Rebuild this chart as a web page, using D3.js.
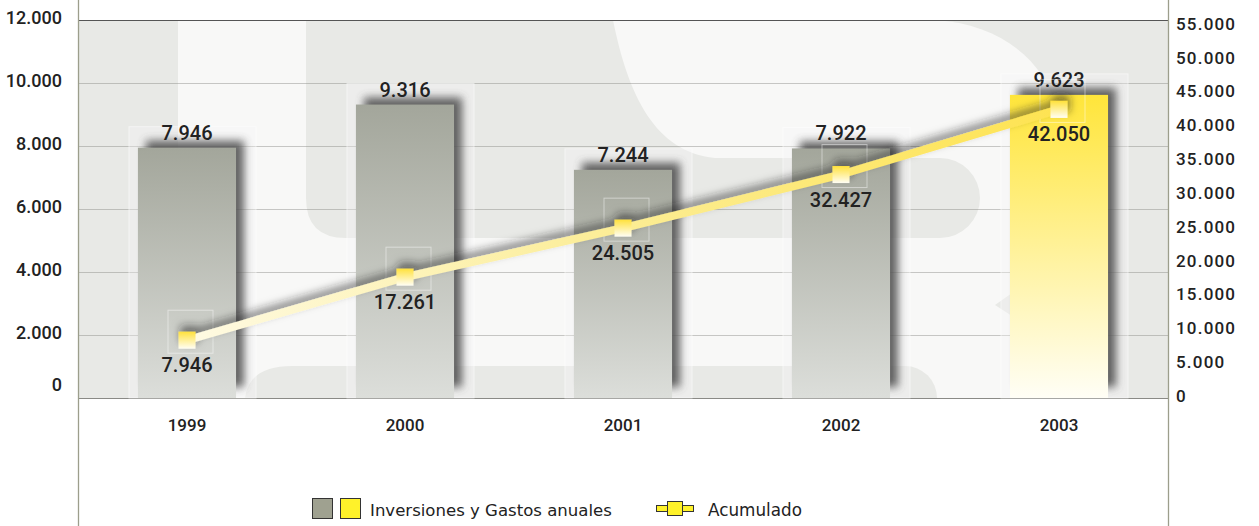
<!DOCTYPE html>
<html>
<head>
<meta charset="utf-8">
<script src="https://cdn.jsdelivr.net/npm/d3@7/dist/d3.min.js"></script>
<style>
  body { margin: 0; background: #fff; }
  svg { display: block; }
</style>
</head>
<body>
<svg width="1259" height="526"></svg>
<script>
// data
const years = ["1999", "2000", "2001", "2002", "2003"];
const annual = [7946, 9316, 7244, 7922, 9623];
const accumulated = [7946, 17261, 24505, 32427, 42050];
const leftTicks = [0, 2000, 4000, 6000, 8000, 10000, 12000];
const rightTicks = [0, 5000, 10000, 15000, 20000, 25000, 30000, 35000, 40000, 45000, 50000, 55000];
const legendBars = "Inversiones y Gastos anuales";
const legendLine = "Acumulado";

const svg = d3.select("svg");
const plotL = 78, plotR = 1168, plotT = 20, plotB = 398;

const locale = d3.formatLocale({ decimal: ",", thousands: ".", grouping: [3], currency: ["", ""] });
const fmt = locale.format(",d");

const x = d3.scaleBand().domain(years).range([plotL, plotR]).paddingInner(0.55).paddingOuter(0.275);
const y = d3.scaleLinear().domain([0, 12000]).range([plotB, plotT]);
const y2 = d3.scaleLinear().domain([0, 56000]).range([396, 17]);

const defs = svg.append("defs");
const gGray = defs.append("linearGradient").attr("id", "gGray").attr("x1", 0).attr("y1", 0).attr("x2", 0).attr("y2", 1);
gGray.append("stop").attr("offset", 0).attr("stop-color", "#a3a69b");
gGray.append("stop").attr("offset", 1).attr("stop-color", "#dcdeda");
const gYel = defs.append("linearGradient").attr("id", "gYel").attr("x1", 0).attr("y1", 0).attr("x2", 0).attr("y2", 1);
gYel.append("stop").attr("offset", 0).attr("stop-color", "#ffe53a");
gYel.append("stop").attr("offset", 1).attr("stop-color", "#fffef6");
const gMark = defs.append("linearGradient").attr("id", "gMark").attr("x1", 0).attr("y1", 0).attr("x2", 0).attr("y2", 1);
gMark.append("stop").attr("offset", 0).attr("stop-color", "#ffe13c");
gMark.append("stop").attr("offset", 1).attr("stop-color", "#fffef4");
const gLine = defs.append("linearGradient").attr("id", "gLine").attr("gradientUnits", "userSpaceOnUse")
  .attr("x1", x("1999")).attr("x2", x("2003") + x.bandwidth()).attr("y1", 0).attr("y2", 0);
gLine.append("stop").attr("offset", 0).attr("stop-color", "#fffcec");
gLine.append("stop").attr("offset", 0.45).attr("stop-color", "#fcee9c");
gLine.append("stop").attr("offset", 1).attr("stop-color", "#fee24a");

defs.append("filter").attr("id", "blur").attr("x", "-30%").attr("y", "-30%").attr("width", "160%").attr("height", "160%")
  .append("feGaussianBlur").attr("stdDeviation", 4);
const fl = defs.append("filter").attr("id", "lineShadow").attr("x", "-10%").attr("y", "-50%").attr("width", "120%").attr("height", "200%");
fl.append("feDropShadow").attr("dx", 2).attr("dy", -6).attr("stdDeviation", 4)
  .attr("flood-color", "#222").attr("flood-opacity", 0.55);

// plot background with watermark
svg.append("rect").attr("x", plotL).attr("y", plotT).attr("width", plotR - plotL).attr("height", plotB - plotT).attr("fill", "#e8e9e6");
const wm = svg.append("g");
wm.append("path").attr("fill", "#f8f8f7")
  .attr("d", "M178,20 H935 C1000,24 1045,60 1058,112 V398 H178 Z");
wm.append("path").attr("fill", "#e8e9e6")
  .attr("d", "M306,20 H613 C628,95 655,152 715,158 H940 A40,40 0 0 1 940,238 H346 Q306,238 306,198 Z");
wm.append("path").attr("fill", "#e8e9e6")
  .attr("d", "M245,398 Q249,366 292,366 H905 A32,32 0 0 1 937,398 Z");
wm.append("path").attr("fill", "#e8e9e6").attr("d", "M1012,293 L995,305 L1012,316 Z");

// gridlines
svg.append("g").selectAll("line").data(leftTicks.filter(d => d > 0 && d < 12000)).join("line")
  .attr("x1", plotL).attr("x2", plotR).attr("y1", d => y(d) + 0.5).attr("y2", d => y(d) + 0.5)
  .attr("stroke", "#8a8a86").attr("stroke-opacity", 0.45);
svg.append("line").attr("x1", plotL).attr("x2", plotR).attr("y1", plotB + 0.5).attr("y2", plotB + 0.5)
  .attr("stroke", "#8a8a86");
svg.append("line").attr("x1", plotL).attr("x2", plotR).attr("y1", plotT + 0.5).attr("y2", plotT + 0.5)
  .attr("stroke", "#555").attr("stroke-width", 1.2);

// bars
const bars = svg.append("g").selectAll("g").data(years).join("g");
bars.append("rect")
  .attr("x", d => x(d) - 9).attr("y", (d, i) => y(annual[i]) - 21)
  .attr("width", x.bandwidth() + 29).attr("height", (d, i) => plotB - y(annual[i]) + 21)
  .attr("fill", "#f6f7f5").attr("fill-opacity", 0.35).attr("stroke", "#fff").attr("stroke-opacity", 0.5);
bars.append("rect")
  .attr("x", d => x(d) + 8).attr("y", (d, i) => y(annual[i]) - 7)
  .attr("width", x.bandwidth()).attr("height", (d, i) => plotB - y(annual[i]) - 4)
  .attr("fill", "#4a4a4a").attr("opacity", 0.85).attr("filter", "url(#blur)");
bars.append("rect")
  .attr("x", d => x(d)).attr("y", (d, i) => y(annual[i]))
  .attr("width", x.bandwidth()).attr("height", (d, i) => plotB - y(annual[i]))
  .attr("fill", (d, i) => i === years.length - 1 ? "url(#gYel)" : "url(#gGray)");
bars.append("text")
  .attr("x", d => x(d) + x.bandwidth() / 2).attr("y", (d, i) => y(annual[i]) - 8)
  .attr("text-anchor", "middle").attr("font-family", "Roboto").attr("font-weight", 500)
  .attr("font-size", 20).attr("fill", "#222")
  .text((d, i) => fmt(annual[i]));

// accumulated line
const pts = years.map((d, i) => [x(d) + x.bandwidth() / 2, y2(accumulated[i]) - 2]);
svg.append("g").selectAll("rect").data(pts).join("rect")
  .attr("x", d => d[0] - 19).attr("y", d => d[1] - 30).attr("width", 45).attr("height", 43)
  .attr("fill", "none").attr("stroke", "#fff").attr("stroke-opacity", 0.45);
const lg = svg.append("g").attr("filter", "url(#lineShadow)");
lg.append("path").attr("d", d3.line()(pts)).attr("fill", "none")
  .attr("stroke", "url(#gLine)").attr("stroke-width", 8).attr("stroke-linejoin", "round");
lg.selectAll("rect").data(pts).join("rect")
  .attr("x", d => d[0] - 8.5).attr("y", d => d[1] - 8.5).attr("width", 17).attr("height", 17)
  .attr("fill", "url(#gMark)");
svg.append("g").selectAll("text").data(pts).join("text")
  .attr("x", d => d[0]).attr("y", d => d[1] + 32)
  .attr("text-anchor", "middle").attr("font-family", "Roboto").attr("font-weight", 500)
  .attr("font-size", 20).attr("fill", "#222")
  .text((d, i) => fmt(accumulated[i]));

// axes lines
svg.append("line").attr("x1", plotL + 0.5).attr("x2", plotL + 0.5).attr("y1", 0).attr("y2", 526).attr("stroke", "#9c9e8c").attr("stroke-width", 1.3);
svg.append("line").attr("x1", plotR + 0.5).attr("x2", plotR + 0.5).attr("y1", 0).attr("y2", 526).attr("stroke", "#9c9e8c").attr("stroke-width", 1.3);

// left axis labels
svg.append("g").selectAll("text").data(leftTicks).join("text")
  .attr("x", 62).attr("y", d => y(d) - (d === 0 ? 14 : 3))
  .attr("dominant-baseline", "central").attr("text-anchor", "end")
  .attr("font-family", "Roboto").attr("font-weight", 500).attr("font-size", 18).attr("fill", "#222")
  .text(d => fmt(d));

// right axis labels
svg.append("g").selectAll("text").data(rightTicks).join("text")
  .attr("x", 1176).attr("y", d => y2(d))
  .attr("dominant-baseline", "central").attr("text-anchor", "start")
  .attr("font-family", "Roboto").attr("font-weight", 500).attr("font-size", 17)
  .attr("letter-spacing", 1.2).attr("fill", "#222")
  .text(d => fmt(d));

// x labels
svg.append("g").selectAll("text").data(years).join("text")
  .attr("x", d => x(d) + x.bandwidth() / 2).attr("y", 431)
  .attr("text-anchor", "middle").attr("font-family", "Roboto").attr("font-weight", 500)
  .attr("font-size", 17).attr("fill", "#222")
  .text(d => d);

// legend
const leg = svg.append("g");
leg.append("rect").attr("x", 312.5).attr("y", 498.5).attr("width", 20).attr("height", 20).attr("fill", "#9fa190").attr("stroke", "#333");
leg.append("rect").attr("x", 340.5).attr("y", 498.5).attr("width", 20).attr("height", 20).attr("fill", "#fff22a").attr("stroke", "#333");
function fitText(sel, w) {
  const fs = +sel.attr("font-size");
  const len = sel.node().getComputedTextLength();
  sel.attr("font-size", fs * w / len);
}
const t1 = leg.append("text").attr("x", 370).attr("y", 516).attr("font-family", "DejaVu Sans")
  .attr("font-size", 16).attr("fill", "#222").text(legendBars);
fitText(t1, 242);
leg.append("rect").attr("x", 656.5).attr("y", 505.5).attr("width", 37).attr("height", 6).attr("fill", "#fff22a").attr("stroke", "#333");
leg.append("rect").attr("x", 667.5).attr("y", 501.5).attr("width", 15).attr("height", 14).attr("fill", "#fff22a").attr("stroke", "#333");
const t2 = leg.append("text").attr("x", 708).attr("y", 516).attr("font-family", "DejaVu Sans")
  .attr("font-size", 16).attr("fill", "#222").text(legendLine);
fitText(t2, 94);
</script>
</body>
</html>
